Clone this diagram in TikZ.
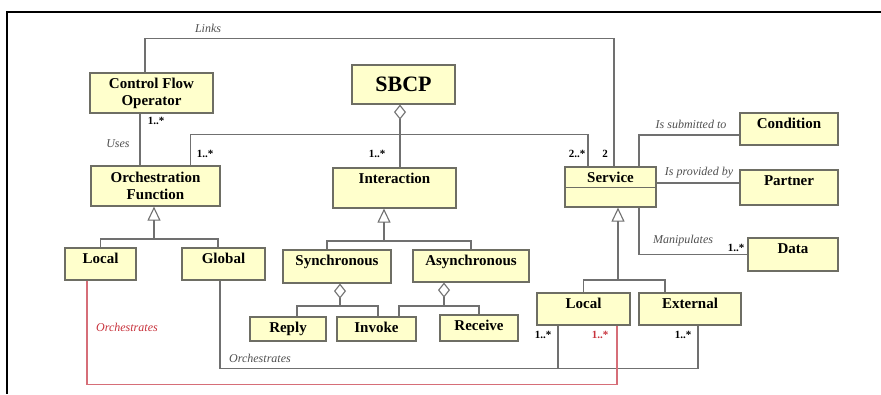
\documentclass[tikz,border=0pt]{standalone}
\usepackage{fontspec}
\setmainfont{Liberation Serif}
\usetikzlibrary{arrows.meta}
\definecolor{boxfill}{RGB}{255,255,204}
\definecolor{boxline}{RGB}{110,110,100}
\definecolor{connc}{RGB}{112,112,112}
\definecolor{redc}{RGB}{214,110,120}
\definecolor{redtext}{RGB}{200,50,60}
\definecolor{lblc}{RGB}{80,80,80}
\begin{document}
\begin{tikzpicture}[x=1pt,y=-1pt,
 box/.style={draw=boxline, line width=1.2pt, fill=boxfill, inner sep=0pt, align=center, font=\bfseries\fontsize{15}{17}\selectfont},
 btitle/.style={anchor=base, yshift=-16.5pt, inner sep=0pt, font=\bfseries\fontsize{15}{17}\selectfont},
 conn/.style={draw=connc, line width=1.1pt},
 redconn/.style={draw=redc, line width=1.1pt},
 gen/.style={{Triangle[open,length=14pt,width=13pt]}-},
 agg/.style={{Diamond[open,length=15pt,width=12pt]}-},
 role/.style={font=\itshape\fontsize{12}{14}\selectfont, text=lblc, inner sep=0pt},
 mult/.style={font=\bfseries\fontsize{11}{13}\selectfont, inner sep=0pt},
]
\useasboundingbox (0,0) rectangle (881,394);
\fill[white] (0,0) rectangle (881,394);
\draw[line width=2pt] (881,12) -- (7,12) -- (7,394);

% boxes
\node[box, minimum width=123, minimum height=40] (cfo) at (151.5,93) {Control Flow\\Operator};
\node[box, minimum width=129, minimum height=40] (of) at (155.5,186) {Orchestration\\Function};
\node[box, minimum width=103, minimum height=39, font=\bfseries\fontsize{22}{24}\selectfont] (sbcp) at (403.5,84.5) {SBCP};
\node[box, minimum width=123, minimum height=40, label={[btitle]north:Interaction}] (inter) at (394.5,188) {};
\node[box, minimum width=91, minimum height=40, label={[btitle]north:Service}] (svc) at (610.5,187) {};
\draw[draw=boxline, line width=1.2pt] ([yshift=-21pt]svc.north west) -- ([yshift=-21pt]svc.north east);
\node[box, minimum width=98, minimum height=32, label={[btitle]north:Condition}] (cond) at (789,129) {};
\node[box, minimum width=98, minimum height=35, label={[btitle]north:Partner}] (partner) at (789,187.5) {};
\node[box, minimum width=90, minimum height=33, label={[btitle]north:Data}] (data) at (793,254.5) {};
\node[box, minimum width=71, minimum height=32, label={[btitle]north:Local}] (localL) at (100.5,264) {};
\node[box, minimum width=83, minimum height=32, label={[btitle]north:Global}] (global) at (223.5,264) {};
\node[box, minimum width=108, minimum height=33, label={[btitle]north:Synchronous}] (sync) at (337,266.5) {};
\node[box, minimum width=116, minimum height=32, label={[btitle]north:Asynchronous}] (async) at (471,266) {};
\node[box, minimum width=76, minimum height=24, label={[btitle]north:Reply}] (reply) at (288,329) {};
\node[box, minimum width=79, minimum height=24, label={[btitle]north:Invoke}] (invoke) at (376.5,329) {};
\node[box, minimum width=78, minimum height=26, label={[btitle]north:Receive}] (receive) at (479,328) {};
\node[box, minimum width=93, minimum height=32, label={[btitle]north:Local}] (localR) at (583.5,309) {};
\node[box, minimum width=102, minimum height=32, label={[btitle]north:External}] (external) at (690,309) {};

% connectors
\draw[conn] ([xshift=-6.5pt]cfo.north) -- ++(0,-34) -| ([xshift=3.5pt]svc.north);
\draw[conn] ([xshift=-11.5pt]cfo.south) -- ([xshift=-15.5pt]of.north);
\draw[conn] ([xshift=35pt]of.north) -- ++(0,-31) -| ([xshift=-22.5pt]svc.north);
\draw[conn,agg] ([xshift=-3.5pt]sbcp.south) -- ([xshift=5.5pt]inter.north);

\coordinate (ofj) at (154,239);
\draw[conn,gen] ([xshift=-1.5pt]of.south) -- (ofj);
\draw[conn] (localL.north) |- (ofj) -| ([xshift=-5.5pt]global.north);

\coordinate (ij) at (384,241);
\draw[conn,gen] ([xshift=-10.5pt]inter.south) -- (ij);
\draw[conn] ([xshift=-10pt]sync.north) |- (ij) -| (async.north);

\coordinate (sj) at (618,280);
\draw[conn,gen] ([xshift=7.5pt]svc.south) -- (sj);
\draw[conn] (localR.north) |- (sj) -| ([xshift=-25pt]external.north);

\coordinate (syj) at (340,306);
\draw[conn,agg] ([xshift=3pt]sync.south) -- (syj);
\draw[conn] ([xshift=9pt]reply.north) |- (syj) -| ([xshift=1.5pt]invoke.north);

\coordinate (ayj) at (444,306);
\draw[conn,agg] ([xshift=-27pt]async.south) -- (ayj);
\draw[conn] ([xshift=22.5pt]invoke.north) |- (ayj) -| (receive.north);

\draw[conn] ([xshift=28.5pt]svc.north) |- ([yshift=-6pt]cond.west);
\draw[conn] ([yshift=4pt]svc.east) -- ([yshift=4.5pt]partner.west);
\draw[conn] ([xshift=28.5pt]svc.south) |- (data.west);

\draw[conn] ([xshift=-3.5pt]global.south) -- ++(0,88) -| ([xshift=8pt]external.south);
\draw[conn] ([xshift=-25.5pt]localR.south) -- ++(0,43);
\draw[redconn] ([xshift=-13.5pt]localL.south) -- ++(0,104) -| ([xshift=33.5pt]localR.south);

% role labels
\node[role] (lLinks) at (208,28) {Links};
\node[role] (lUses) at (118,144) {Uses};
\node[role] (lSub) at (691,124) {Is submitted to};
\node[role] (lProv) at (699,173) {Is provided by};
\node[role] (lMan) at (683,241) {Manipulates};
\node[role, text=redtext, anchor=west] (lOrchR) at (96,327) {Orchestrates};
\node[role, anchor=west] (lOrchB) at (229,358) {Orchestrates};

% multiplicities
\node[mult] (m1) at (156,121) {1..*};
\node[mult] (m2) at (205,154) {1..*};
\node[mult] (m3) at (377,154) {1..*};
\node[mult] (m4) at (577,154) {2..*};
\node[mult] (m5) at (605,154) {2};
\node[mult] (m6) at (736,248) {1..*};
\node[mult] (m7) at (543,335) {1..*};
\node[mult, text=redtext] (m8) at (600,335) {1..*};
\node[mult] (m9) at (683,335) {1..*};
\end{tikzpicture}
\end{document}
